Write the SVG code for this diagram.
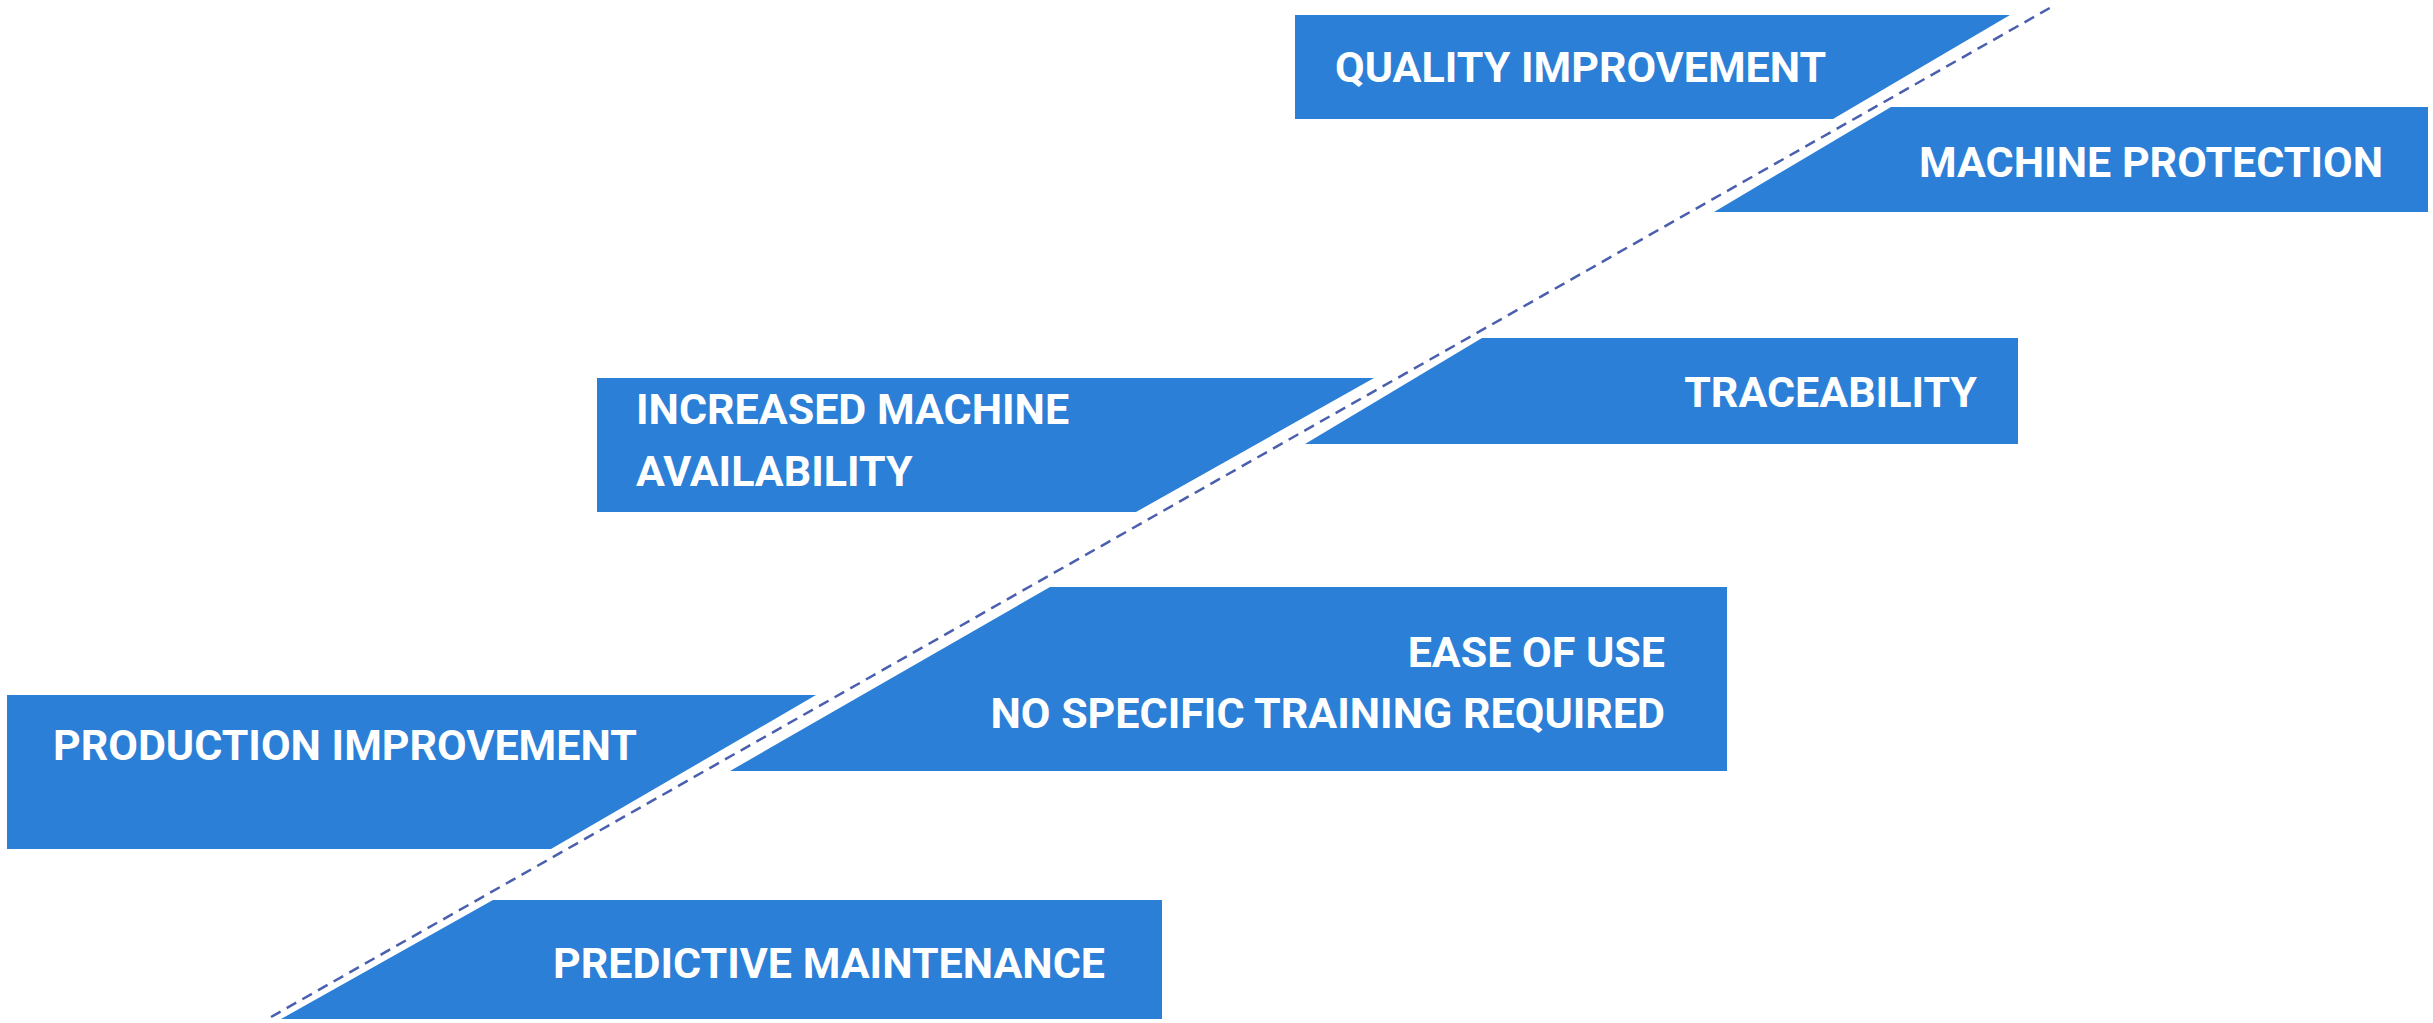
<svg xmlns="http://www.w3.org/2000/svg" width="2433" height="1023" viewBox="0 0 2433 1023">
<style>
.box{fill:#2b7fd6}
.t{font-family:Roboto,"Liberation Sans",sans-serif;font-weight:700;font-size:43px;fill:#ffffff}
.e{text-anchor:end}
.dash{stroke:#4a5fae;stroke-width:2.5;stroke-dasharray:11 7;fill:none}
</style>
<rect width="2433" height="1023" fill="#ffffff"/>
<g id="quality">
<polygon class="box" points="1295,15 2010,15 1833,119 1295,119"/>
<text class="t" x="1335" y="82">QUALITY IMPROVEMENT</text>
</g>
<g id="machine-protection">
<polygon class="box" points="1891,107 2428,107 2428,212 1714,212"/>
<text class="t e" x="2383" y="177">MACHINE PROTECTION</text>
</g>
<g id="traceability">
<polygon class="box" points="1482,338 2018,338 2018,444 1305,444"/>
<text class="t e" x="1977" y="407">TRACEABILITY</text>
</g>
<g id="availability">
<polygon class="box" points="597,378 1374,378 1136,512 597,512"/>
<text class="t" x="636" y="424">INCREASED MACHINE</text>
<text class="t" x="636" y="486">AVAILABILITY</text>
</g>
<g id="ease">
<polygon class="box" points="1050,587 1727,587 1727,771 730,771"/>
<text class="t e" x="1665" y="667">EASE OF USE</text>
<text class="t e" x="1665" y="728">NO SPECIFIC TRAINING REQUIRED</text>
</g>
<g id="production">
<polygon class="box" points="7,695 816,695 551,849 7,849"/>
<text class="t" x="53" y="760">PRODUCTION IMPROVEMENT</text>
</g>
<g id="predictive">
<polygon class="box" points="493,900 1162,900 1162,1019 281,1019"/>
<text class="t" x="553" y="978">PREDICTIVE MAINTENANCE</text>
</g>
<g id="connectors">
<line class="dash" x1="271" y1="1017" x2="2055" y2="5"/>
</g>
</svg>
